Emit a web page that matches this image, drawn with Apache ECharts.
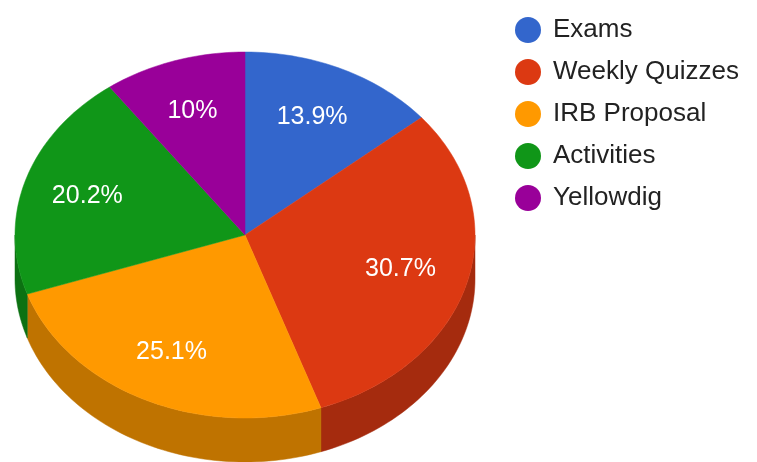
<!DOCTYPE html>
<html>
<head>
<meta charset="utf-8">
<script src="https://cdn.jsdelivr.net/npm/echarts@6/dist/echarts.min.js"></script>
<style>
  html, body { margin: 0; padding: 0; background: #fff; }
  #main { width: 757px; height: 462px; }
</style>
</head>
<body>
<div id="main"></div>
<script>
// 数据
const categories = ['Exams', 'Weekly Quizzes', 'IRB Proposal', 'Activities', 'Yellowdig'];
const values = [13.9, 30.7, 25.1, 20.2, 10.0];
const colors = ['#3366cc', '#dc3912', '#ff9900', '#109618', '#990099'];
const sideColors = ['#264d99', '#a52b0e', '#bf7300', '#0c7112', '#730073'];

// 3D 饼图的几何参数
const cx = 245, cy = 235, rx = 230, ry = 183, depth = 44;

const total = values.reduce((a, b) => a + b, 0);
let acc = 0;
const slices = values.map(v => {
  const start = acc / total * 360;
  acc += v;
  return [start, acc / total * 360, v / total * 100];
});

function pt(deg, dy) {
  const r = deg * Math.PI / 180;
  return [cx + rx * Math.sin(r), cy - ry * Math.cos(r) + (dy || 0)];
}

function arc(a, b, dy) {
  let pts = [];
  const n = Math.max(2, Math.ceil((b - a) / 1.5));
  for (let i = 0; i <= n; i++) pts.push(pt(a + (b - a) * i / n, dy));
  return pts;
}

function fmt(p) {
  let s = p.toFixed(1);
  if (s.endsWith('.0')) s = s.slice(0, -2);
  return s + '%';
}

function renderSlice(params, api) {
  const i = params.seriesIndex;
  const [a, b, pct] = slices[i];
  const children = [];
  // 侧面（只画前半部分 90°~270°）
  const sa = Math.max(a, 90), sb = Math.min(b, 270);
  if (sb > sa) {
    const top = arc(sa, sb, 0);
    const bottom = arc(sa, sb, depth).reverse();
    children.push({
      type: 'polygon',
      z2: 1,
      shape: { points: top.concat(bottom) },
      style: { fill: sideColors[i], stroke: sideColors[i], lineWidth: 0.5 }
    });
  }
  // 顶面
  children.push({
    type: 'polygon',
    z2: 2,
    shape: { points: [[cx, cy]].concat(arc(a, b, 0)) },
    style: { fill: colors[i], stroke: colors[i], lineWidth: 0.5 }
  });
  // 百分比标签
  const mid = (a + b) / 2 * Math.PI / 180;
  children.push({
    type: 'text',
    z2: 3,
    x: cx + 0.71 * rx * Math.sin(mid) - 2,
    y: cy - 0.71 * ry * Math.cos(mid),
    style: {
      text: fmt(pct),
      fill: '#fff',
      fontSize: 25,
      fontFamily: 'Liberation Sans, Arial, sans-serif',
      align: 'center',
      verticalAlign: 'middle'
    }
  });
  return { type: 'group', children: children };
}

const chart = echarts.init(document.getElementById('main'));
const option = {
  animation: false,
  legend: {
    orient: 'vertical',
    left: 515,
    top: 17,
    padding: 0,
    icon: 'circle',
    itemWidth: 26,
    itemHeight: 26,
    itemGap: 16,
    data: categories,
    textStyle: {
      fontSize: 26,
      lineHeight: 26,
      color: '#222',
      padding: [0, 0, 0, 7],
      fontFamily: 'Liberation Sans, Arial, sans-serif'
    }
  },
  series: categories.map((name, i) => ({
    type: 'custom',
    name: name,
    coordinateSystem: 'none',
    itemStyle: { color: colors[i] },
    data: [slices[i]],
    renderItem: renderSlice
  }))
};
chart.setOption(option);
</script>
</body>
</html>
